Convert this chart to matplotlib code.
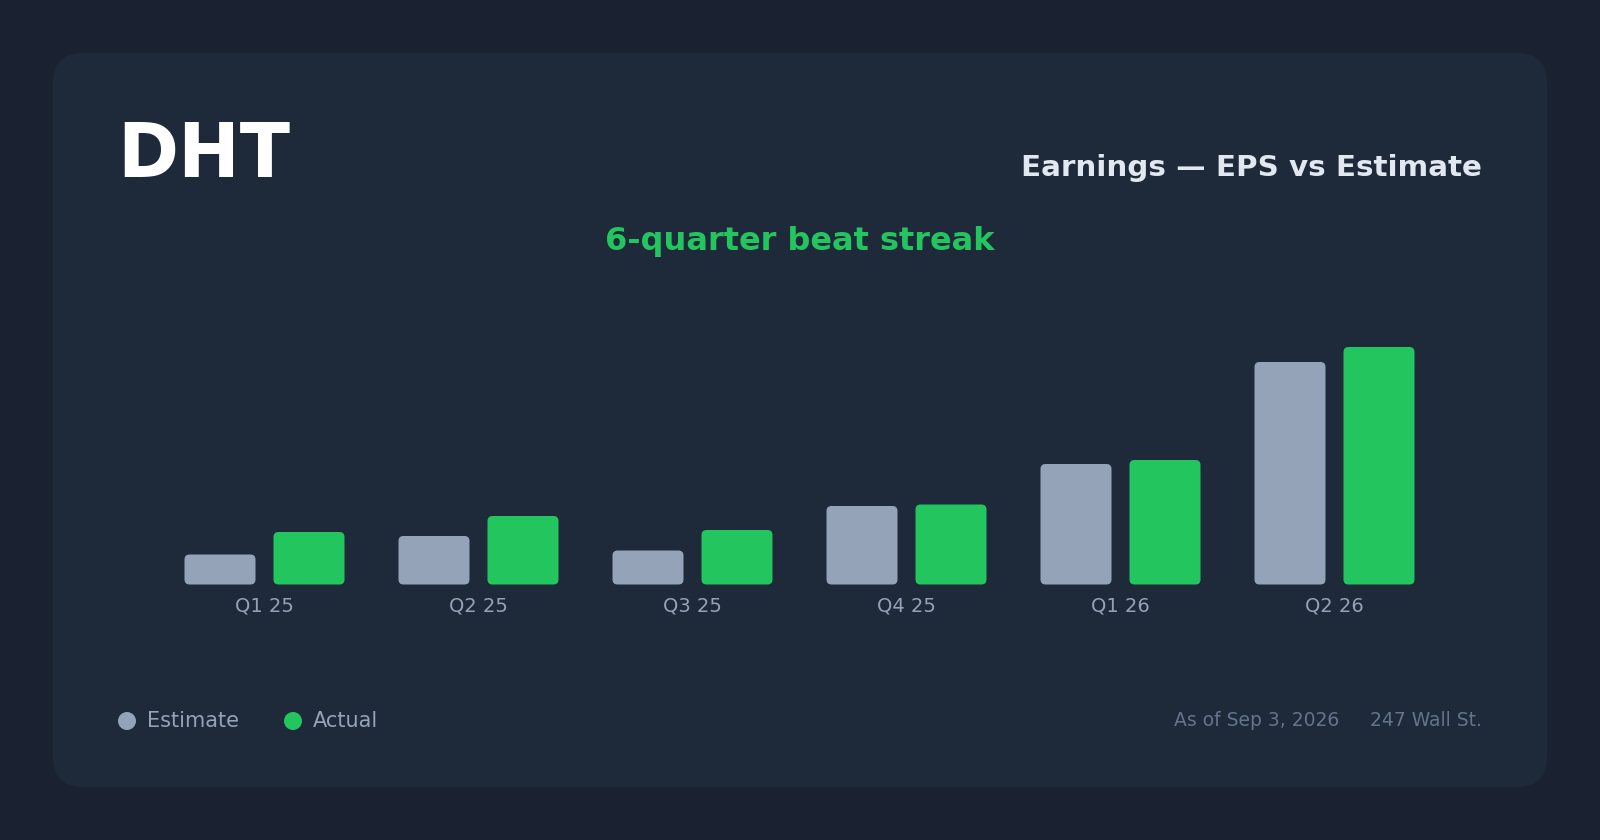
import matplotlib
matplotlib.use("Agg")
import matplotlib.pyplot as plt
from matplotlib.patches import FancyBboxPatch, Circle

quarters = ["Q1 25", "Q2 25", "Q3 25", "Q4 25", "Q1 26", "Q2 26"]
estimate = [0.12, 0.194, 0.136, 0.314, 0.482, 0.89]
actual = [0.21, 0.274, 0.218, 0.32, 0.498, 0.95]

BG = "#1a2130"
CARD = "#1e293a"
GREY = "#94a3b8"
GREEN = "#22c55e"

W, H = 1600, 840
fig = plt.figure(figsize=(W / 100, H / 100), dpi=100)
fig.patch.set_facecolor(BG)

# background axes in pixel coordinates (origin top-left)
bg = fig.add_axes([0, 0, 1, 1])
bg.set_xlim(0, W)
bg.set_ylim(H, 0)
bg.axis("off")
bg.add_patch(FancyBboxPatch((53, 53), 1494, 734,
                            boxstyle="round,pad=0,rounding_size=30",
                            fc=CARD, ec="none"))

bg.text(117, 177, "DHT", color="white", fontsize=53, fontweight="bold", va="baseline")
bg.text(1482, 176, "Earnings \u2014 EPS vs Estimate", color="#e2e8f0", fontsize=21.2,
        fontweight="bold", ha="right", va="baseline")
bg.text(800, 250, "6-quarter beat streak", color=GREEN, fontsize=23,
        fontweight="bold", ha="center", va="baseline")

# legend
bg.add_patch(Circle((127, 721), 9, fc=GREY, ec="none"))
bg.text(147, 727, "Estimate", color=GREY, fontsize=15, va="baseline")
bg.add_patch(Circle((293, 721), 9, fc=GREEN, ec="none"))
bg.text(313, 727, "Actual", color=GREY, fontsize=15, va="baseline")

# footer
bg.text(1339, 726, "As of Sep 3, 2026", color="#64748b", fontsize=13.5,
        ha="right", va="baseline")
bg.text(1482, 726, "247 Wall St.", color="#64748b", fontsize=13.5,
        ha="right", va="baseline")

# bar axes: 214 px per group, 250 px per unit
x0, x1 = 157.5, 1441.5
y_base, y_top = 584.5, 334.5
ax = fig.add_axes([x0 / W, 1 - y_base / H, (x1 - x0) / W, (y_base - y_top) / H])
ax.set_xlim(-0.5, len(quarters) - 0.5)
ax.set_ylim(0, 1.0)
ax.patch.set_alpha(0)
for s in ax.spines.values():
    s.set_visible(False)
ax.set_yticks([])
ax.set_xticks(range(len(quarters)))
ax.set_xticklabels(quarters, color=GREY, fontsize=14)
ax.tick_params(axis="x", length=0, pad=9)

bw = 71 / 214
off = 44.5 / 214
r = 5 / 214
asp = (1 / 250) / (1 / 214)
for i, (e, a) in enumerate(zip(estimate, actual)):
    for val, dx, col in ((e, -off, GREY), (a, off, GREEN)):
        ax.add_patch(FancyBboxPatch((i + dx - bw / 2, 0), bw, val,
                                    boxstyle="round,pad=0,rounding_size=%f" % r,
                                    mutation_aspect=asp, fc=col, ec="none"))

fig.savefig("out.png", dpi=100, facecolor=BG)
